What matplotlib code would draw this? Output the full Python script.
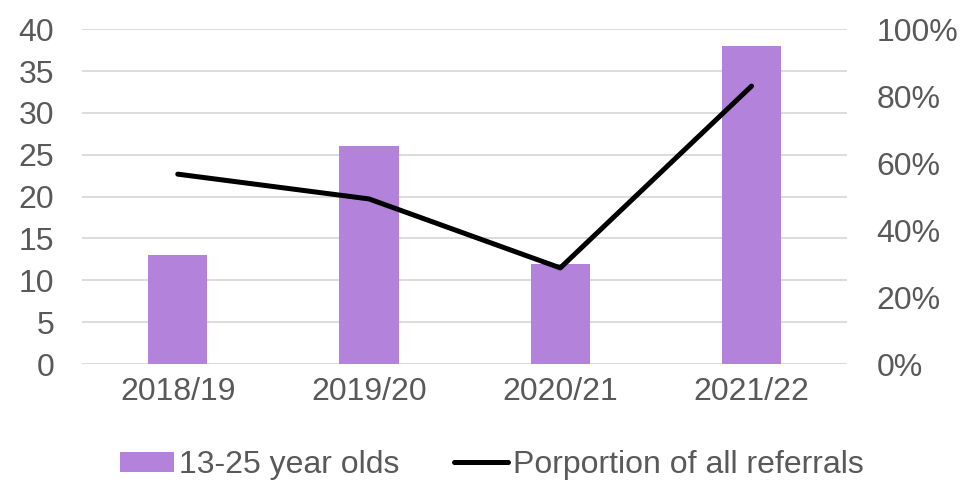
import matplotlib.pyplot as plt
import numpy as np

plt.rcParams['font.family'] = ['Liberation Sans', 'DejaVu Sans']

# data
years = ['2018/19', '2019/20', '2020/21', '2021/22']
young_people = [13, 26, 12, 38]
proportion = [0.567, 0.493, 0.287, 0.83]

txt = '#595959'
bar_col = '#B383DB'
fs = 23

fig = plt.figure(figsize=(9.66, 4.86), dpi=100)
ax = fig.add_axes([0.085, 0.251, 0.792, 0.689])
x = np.arange(len(years))

ax.bar(x, young_people, width=0.31, color=bar_col, label='13-25 year olds', zorder=2)
ax.set_ylim(0, 40)
ax.set_yticks(range(0, 41, 5))
ax.set_xlim(-0.5, len(years) - 0.5)
ax.set_xticks(x)
ax.set_xticklabels(years)
ax.grid(axis='y', color='#D9D9D9', linewidth=1.3, zorder=0)
ax.set_axisbelow(True)
for s in ax.spines.values():
    s.set_visible(False)
ax.tick_params(length=0, labelsize=fs, labelcolor=txt)
ax.tick_params(axis='x', pad=9)
ax.tick_params(axis='y', pad=20)

ax2 = ax.twinx()
ax2.plot(x, proportion, color='black', linewidth=3.6, solid_capstyle='round',
         label='Porportion of all referrals', zorder=3)
ax2.set_ylim(0, 1)
ax2.set_yticks(np.arange(0, 1.01, 0.2))
ax2.set_yticklabels([f'{int(round(v * 100))}%' for v in np.arange(0, 1.01, 0.2)])
for s in ax2.spines.values():
    s.set_visible(False)
ax2.tick_params(length=0, labelsize=fs, labelcolor=txt, pad=21)

# legend below the plot
h1, l1 = ax.get_legend_handles_labels()
h2, l2 = ax2.get_legend_handles_labels()
fig.legend(h1 + h2, l1 + l2, loc='center', bbox_to_anchor=(0.509, 0.043), ncol=2,
           frameon=False, fontsize=fs, labelcolor=txt, handlelength=1.7,
           handletextpad=0.15, columnspacing=1.7, handleheight=0.6)

fig.savefig('out.png', dpi=100)
